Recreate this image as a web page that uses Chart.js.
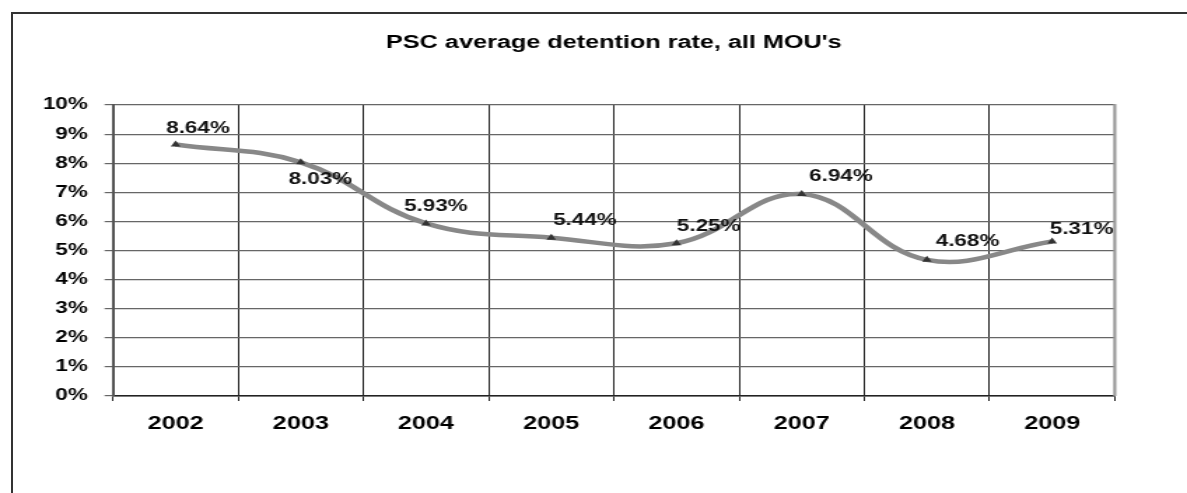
<!DOCTYPE html>
<html>
<head>
<meta charset="utf-8">
<title>PSC average detention rate</title>
<script src="https://cdn.jsdelivr.net/npm/chart.js@4.4.0/dist/chart.umd.min.js"></script>
<style>
  html, body { margin: 0; padding: 0; background: #fff; overflow: hidden; }
  #frame {
    position: absolute; left: 11px; top: 12px; width: 1300px; height: 600px;
    border-top: 2px solid #333; border-left: 2px solid #333;
  }
  #c { position: absolute; left: 0; top: 0; }
</style>
</head>
<body>
<div id="frame"></div>
<!-- the source picture is stretched sideways, so the canvas is too -->
<canvas id="c" width="848" height="493" style="width:1187px;height:493px"></canvas>
<script>
const years = ["2002", "2003", "2004", "2005", "2006", "2007", "2008", "2009"];
const detentionRate = [8.64, 8.03, 5.93, 5.44, 5.25, 6.94, 4.68, 5.31];
const yTickLabels = ["0%", "1%", "2%", "3%", "4%", "5%", "6%", "7%", "8%", "9%", "10%"];

const FONT = '"Liberation Sans", Arial, sans-serif';

// where each value label sits relative to its point (canvas units)
const labelShift = [[16, -16], [14, 17], [7, -17], [24, -17], [23, -17], [28, -17], [29, -18], [21, -12]];

const valueLabels = {
  id: "valueLabels",
  afterDatasetsDraw(chart) {
    const ctx = chart.ctx;
    const pts = chart.getDatasetMeta(0).data;
    ctx.save();
    ctx.font = "bold 16px " + FONT;
    ctx.fillStyle = "#111";
    ctx.textAlign = "center";
    ctx.textBaseline = "middle";
    pts.forEach(function (p, i) {
      ctx.fillText(detentionRate[i].toFixed(2) + "%", p.x + labelShift[i][0], p.y + labelShift[i][1]);
    });
    ctx.restore();
  }
};

const plotEdge = {
  id: "plotEdge",
  beforeDatasetsDraw(chart) {
    const a = chart.chartArea;
    const ctx = chart.ctx;
    ctx.save();
    ctx.strokeStyle = "#999";
    ctx.lineWidth = 2.2;
    ctx.beginPath();
    ctx.moveTo(a.right, a.top - 1);
    ctx.lineTo(a.right, a.bottom);
    ctx.stroke();
    ctx.restore();
  }
};

new Chart(document.getElementById("c").getContext("2d"), {
  type: "line",
  data: {
    labels: years,
    datasets: [
      {
        label: "Detention rate",
        data: detentionRate,
        borderColor: "#888",
        borderWidth: 4.5,
        tension: 0.4,
        fill: false,
        pointStyle: "triangle",
        pointRadius: 4,
        pointBackgroundColor: "#333",
        pointBorderColor: "#333",
        pointBorderWidth: 0,
      },
    ],
  },
  options: {
    responsive: false,
    animation: false,
    devicePixelRatio: 1,
    layout: { padding: { left: 0, right: 51.6, top: 0, bottom: 37 } },
    plugins: {
      legend: { display: false },
      tooltip: { enabled: false },
      title: {
        display: true,
        text: "PSC average detention rate, all MOU's",
        fullSize: false,
        color: "#000",
        font: { family: FONT, size: 18, weight: "bold" },
        padding: { top: 32.5, bottom: 50.9 },
      },
    },
    scales: {
      x: {
        offset: true,
        grid: { offset: true, color: "#222", lineWidth: 1, tickLength: 5 },
        border: { color: "#222", width: 1.5 },
        ticks: { color: "#000", padding: 12, font: { family: FONT, size: 18, weight: "bold" } },
        afterFit: function (s) { s.height = 60; },
      },
      y: {
        min: 0,
        max: 10,
        ticks: {
          stepSize: 1,
          color: "#000",
          padding: 12,
          font: { family: FONT, size: 16, weight: "bold" },
          callback: function (v, i) { return yTickLabels[i]; },
        },
        grid: { color: "#666", lineWidth: 1.2, tickLength: 6 },
        border: { color: "#555", width: 2 },
        afterFit: function (s) { s.width = 80.7; },
      },
    },
  },
  plugins: [plotEdge, valueLabels],
});
</script>
</body>
</html>
